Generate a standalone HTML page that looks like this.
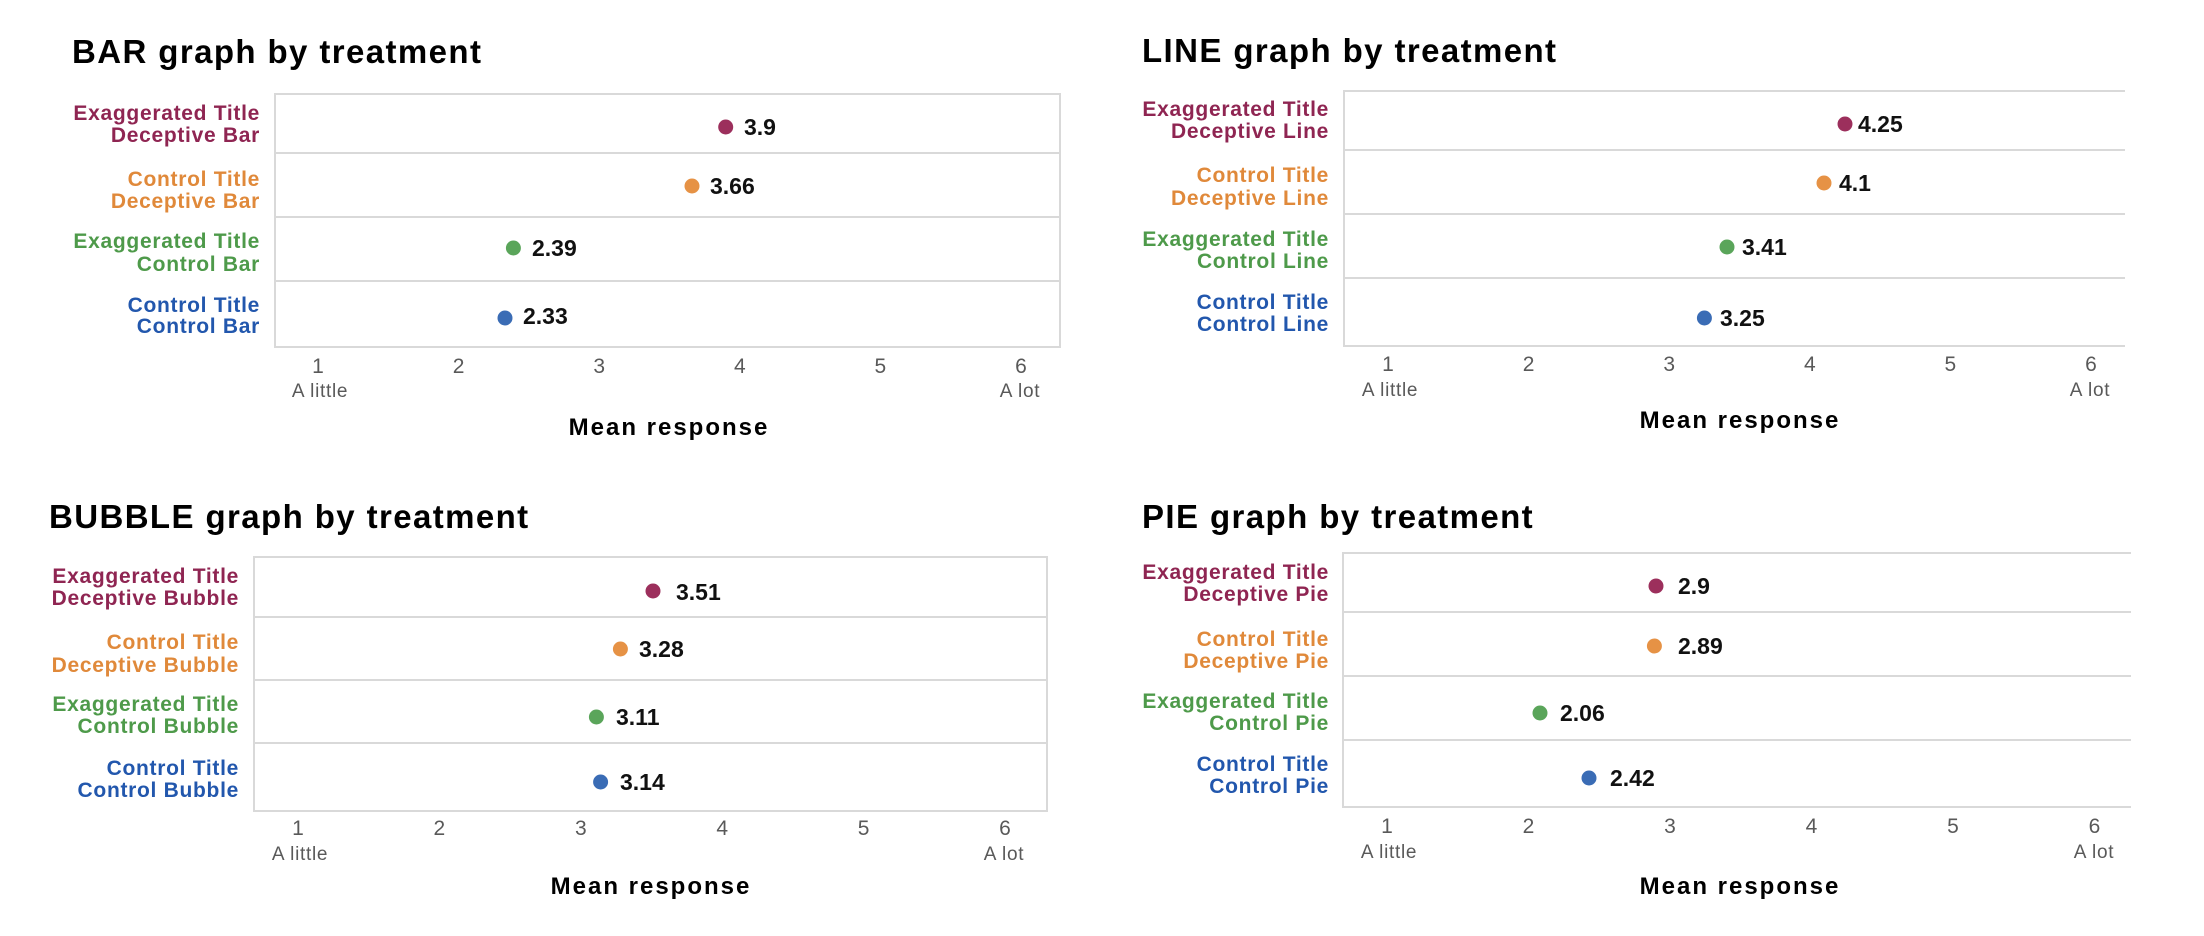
<!DOCTYPE html>
<html>
<head>
<meta charset="utf-8">
<style>
  html,body{margin:0;padding:0;background:#fff;}
  svg{display:block;}
  .title{font-family:"Liberation Sans",sans-serif;font-weight:bold;font-size:33px;letter-spacing:1.4px;fill:#000;}
  .lab{font-family:"Liberation Sans",sans-serif;font-weight:bold;font-size:21px;letter-spacing:0.7px;text-anchor:end;}
  .pu{fill:#8f2552;} .or{fill:#e0893a;} .gr{fill:#4e9a4a;} .bl{fill:#2257ad;}
  .tick{font-family:"Liberation Sans",sans-serif;font-size:21px;fill:#595959;text-anchor:middle;}
  .anch{font-family:"Liberation Sans",sans-serif;font-size:19px;letter-spacing:0.7px;fill:#595959;text-anchor:middle;}
  .ax{font-family:"Liberation Sans",sans-serif;font-weight:bold;font-size:24px;letter-spacing:2px;fill:#000;text-anchor:middle;}
  .val{font-family:"Liberation Sans",sans-serif;font-weight:bold;font-size:23px;fill:#111;}
  .grid{stroke:#d9d9d9;stroke-width:2;fill:none;}
</style>
</head>
<body>
<svg width="2204" height="936" viewBox="0 0 2204 936" xmlns="http://www.w3.org/2000/svg">

<!-- ============ BAR ============ -->
<text class="title" x="72" y="63">BAR graph by treatment</text>
<rect class="grid" x="275" y="94" width="785" height="253"/>
<line class="grid" x1="275" y1="153" x2="1060" y2="153"/>
<line class="grid" x1="275" y1="217" x2="1060" y2="217"/>
<line class="grid" x1="275" y1="281" x2="1060" y2="281"/>

<text class="lab pu" x="260" y="120">Exaggerated Title</text>
<text class="lab pu" x="260" y="142">Deceptive Bar</text>
<text class="lab or" x="260" y="186">Control Title</text>
<text class="lab or" x="260" y="208">Deceptive Bar</text>
<text class="lab gr" x="260" y="248">Exaggerated Title</text>
<text class="lab gr" x="260" y="271">Control Bar</text>
<text class="lab bl" x="260" y="312">Control Title</text>
<text class="lab bl" x="260" y="333">Control Bar</text>

<circle cx="725.7" cy="127" r="7.5" fill="#9c2f5c"/>
<text class="val" x="744" y="135">3.9</text>
<circle cx="692" cy="186" r="7.5" fill="#e69245"/>
<text class="val" x="710" y="194">3.66</text>
<circle cx="513.4" cy="248" r="7.5" fill="#5aa55a"/>
<text class="val" x="532" y="256">2.39</text>
<circle cx="505" cy="318" r="7.5" fill="#3a6cb5"/>
<text class="val" x="523" y="324">2.33</text>

<text class="tick" x="318" y="373">1</text>
<text class="tick" x="458.6" y="373">2</text>
<text class="tick" x="599.2" y="373">3</text>
<text class="tick" x="739.8" y="373">4</text>
<text class="tick" x="880.4" y="373">5</text>
<text class="tick" x="1021" y="373">6</text>
<text class="anch" x="320" y="397">A little</text>
<text class="anch" x="1020" y="397">A lot</text>
<text class="ax" x="669" y="435">Mean response</text>

<!-- ============ LINE ============ -->
<text class="title" x="1142" y="62">LINE graph by treatment</text>
<line class="grid" x1="1344" y1="90" x2="1344" y2="347"/>
<line class="grid" x1="1344" y1="91" x2="2125" y2="91"/>
<line class="grid" x1="1344" y1="150" x2="2125" y2="150"/>
<line class="grid" x1="1344" y1="214" x2="2125" y2="214"/>
<line class="grid" x1="1344" y1="278" x2="2125" y2="278"/>
<line class="grid" x1="1344" y1="346" x2="2125" y2="346"/>

<text class="lab pu" x="1329" y="116">Exaggerated Title</text>
<text class="lab pu" x="1329" y="138">Deceptive Line</text>
<text class="lab or" x="1329" y="182">Control Title</text>
<text class="lab or" x="1329" y="205">Deceptive Line</text>
<text class="lab gr" x="1329" y="246">Exaggerated Title</text>
<text class="lab gr" x="1329" y="268">Control Line</text>
<text class="lab bl" x="1329" y="309">Control Title</text>
<text class="lab bl" x="1329" y="331">Control Line</text>

<circle cx="1845" cy="124" r="7.5" fill="#9c2f5c"/>
<text class="val" x="1858" y="132">4.25</text>
<circle cx="1824" cy="183" r="7.5" fill="#e69245"/>
<text class="val" x="1839" y="191">4.1</text>
<circle cx="1727" cy="247" r="7.5" fill="#5aa55a"/>
<text class="val" x="1742" y="255">3.41</text>
<circle cx="1704.4" cy="318" r="7.5" fill="#3a6cb5"/>
<text class="val" x="1720" y="326">3.25</text>

<text class="tick" x="1388" y="371">1</text>
<text class="tick" x="1528.6" y="371">2</text>
<text class="tick" x="1669.2" y="371">3</text>
<text class="tick" x="1809.8" y="371">4</text>
<text class="tick" x="1950.4" y="371">5</text>
<text class="tick" x="2091" y="371">6</text>
<text class="anch" x="1390" y="396">A little</text>
<text class="anch" x="2090" y="396">A lot</text>
<text class="ax" x="1740" y="428">Mean response</text>

<!-- ============ BUBBLE ============ -->
<text class="title" x="49" y="528">BUBBLE graph by treatment</text>
<rect class="grid" x="254" y="557" width="793" height="254"/>
<line class="grid" x1="254" y1="617" x2="1047" y2="617"/>
<line class="grid" x1="254" y1="680" x2="1047" y2="680"/>
<line class="grid" x1="254" y1="743" x2="1047" y2="743"/>

<text class="lab pu" x="239" y="583">Exaggerated Title</text>
<text class="lab pu" x="239" y="605">Deceptive Bubble</text>
<text class="lab or" x="239" y="649">Control Title</text>
<text class="lab or" x="239" y="672">Deceptive Bubble</text>
<text class="lab gr" x="239" y="711">Exaggerated Title</text>
<text class="lab gr" x="239" y="733">Control Bubble</text>
<text class="lab bl" x="239" y="775">Control Title</text>
<text class="lab bl" x="239" y="797">Control Bubble</text>

<circle cx="653" cy="591" r="7.5" fill="#9c2f5c"/>
<text class="val" x="676" y="600">3.51</text>
<circle cx="620.4" cy="649" r="7.5" fill="#e69245"/>
<text class="val" x="639" y="657">3.28</text>
<circle cx="596.4" cy="717" r="7.5" fill="#5aa55a"/>
<text class="val" x="616" y="725">3.11</text>
<circle cx="600.6" cy="782" r="7.5" fill="#3a6cb5"/>
<text class="val" x="620" y="790">3.14</text>

<text class="tick" x="298" y="835">1</text>
<text class="tick" x="439.4" y="835">2</text>
<text class="tick" x="580.8" y="835">3</text>
<text class="tick" x="722.2" y="835">4</text>
<text class="tick" x="863.6" y="835">5</text>
<text class="tick" x="1005" y="835">6</text>
<text class="anch" x="300" y="860">A little</text>
<text class="anch" x="1004" y="860">A lot</text>
<text class="ax" x="651" y="894">Mean response</text>

<!-- ============ PIE ============ -->
<text class="title" x="1142" y="528">PIE graph by treatment</text>
<line class="grid" x1="1343" y1="552" x2="1343" y2="808"/>
<line class="grid" x1="1343" y1="553" x2="2131" y2="553"/>
<line class="grid" x1="1343" y1="612" x2="2131" y2="612"/>
<line class="grid" x1="1343" y1="676" x2="2131" y2="676"/>
<line class="grid" x1="1343" y1="740" x2="2131" y2="740"/>
<line class="grid" x1="1343" y1="807" x2="2131" y2="807"/>

<text class="lab pu" x="1329" y="579">Exaggerated Title</text>
<text class="lab pu" x="1329" y="601">Deceptive Pie</text>
<text class="lab or" x="1329" y="646">Control Title</text>
<text class="lab or" x="1329" y="668">Deceptive Pie</text>
<text class="lab gr" x="1329" y="708">Exaggerated Title</text>
<text class="lab gr" x="1329" y="730">Control Pie</text>
<text class="lab bl" x="1329" y="771">Control Title</text>
<text class="lab bl" x="1329" y="793">Control Pie</text>

<circle cx="1656" cy="586" r="7.5" fill="#9c2f5c"/>
<text class="val" x="1678" y="594">2.9</text>
<circle cx="1654.4" cy="646" r="7.5" fill="#e69245"/>
<text class="val" x="1678" y="654">2.89</text>
<circle cx="1540" cy="713" r="7.5" fill="#5aa55a"/>
<text class="val" x="1560" y="721">2.06</text>
<circle cx="1589" cy="778" r="7.5" fill="#3a6cb5"/>
<text class="val" x="1610" y="786">2.42</text>

<text class="tick" x="1387" y="833">1</text>
<text class="tick" x="1528.5" y="833">2</text>
<text class="tick" x="1670" y="833">3</text>
<text class="tick" x="1811.5" y="833">4</text>
<text class="tick" x="1953" y="833">5</text>
<text class="tick" x="2094.5" y="833">6</text>
<text class="anch" x="1389" y="858">A little</text>
<text class="anch" x="2094" y="858">A lot</text>
<text class="ax" x="1740" y="894">Mean response</text>

</svg>
</body>
</html>
